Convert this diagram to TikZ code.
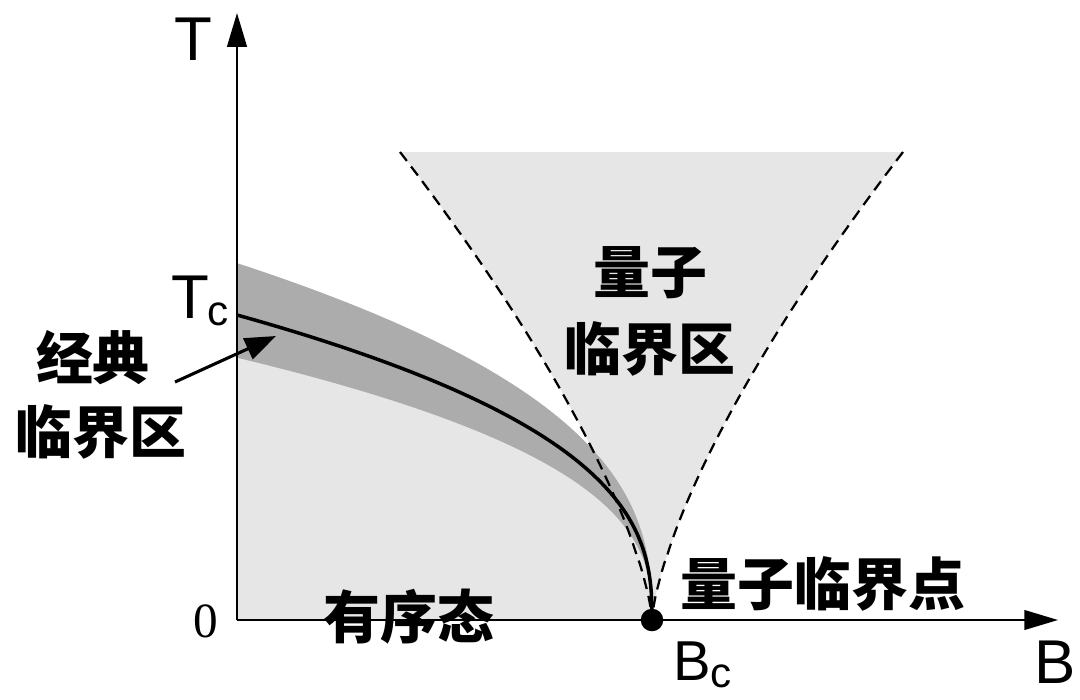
\documentclass[tikz,border=0pt]{standalone}
\usepackage{fontspec}
\setmainfont{Liberation Sans}
\newfontfamily\cjk{Noto Sans CJK SC}
\newfontfamily\zerofont{Liberation Serif}
\usetikzlibrary{arrows.meta}
\definecolor{lightfill}{RGB}{230,230,230}
\definecolor{bandfill}{RGB}{172,172,172}
\tikzset{
  cjklabel/.style={font=\cjk\bfseries\fontsize{40.5}{48}\selectfont, inner sep=0pt},
  axislabel/.style={font=\fontsize{44}{50}\selectfont, inner sep=0pt},
  axisline/.style={line width=1.4pt, -{Triangle[length=24pt,width=14pt]}},
  fanline/.style={line width=1.6pt, dash pattern=on 8pt off 5pt},
  critline/.style={line width=2.5pt},
  pointer/.style={line width=2.2pt, -{Triangle[length=22pt,width=16pt]}},
}
\begin{document}
\begin{tikzpicture}[x=0.025cm, y=-0.025cm]
\useasboundingbox (0,0) rectangle (1080,699);
% quantum critical fan
\fill[lightfill] (400,152) -- (903,152)
  -- plot[domain=1:0.01, samples=80, variable=\s] ({652+251*\s^1.4286}, {620-468*\s})
  -- (652,620)
  -- plot[domain=0.01:1, samples=80, variable=\s] ({652-252*\s^1.4286}, {620-468*\s})
  -- cycle;
% ordered region
\fill[lightfill] (237,620) -- (237,315)
  -- plot[domain=1:0.02, samples=100, variable=\t] ({237+415*(1-\t^2.5)}, {620-305*\t^0.95})
  -- (652,620) -- cycle;
% classical critical band
\fill[bandfill] (237,263)
  -- plot[domain=1:0.02, samples=100, variable=\t] ({237+415*(1-\t^2.5)}, {620-1.17*305*\t^0.95})
  -- (652,620)
  -- plot[domain=0.02:1, samples=100, variable=\t] ({237+415*(1-\t^2.5)}, {620-0.86*305*\t^0.95})
  -- cycle;
% fan boundaries
\draw[fanline] plot[domain=1:0.01, samples=80, variable=\s] ({652+251*\s^1.4286}, {620-468*\s}) -- (652,620);
\draw[fanline] plot[domain=1:0.01, samples=80, variable=\s] ({652-252*\s^1.4286}, {620-468*\s}) -- (652,620);
% critical line
\draw[critline] plot[domain=1:0.02, samples=120, variable=\t] ({237+415*(1-\t^2.5)}, {620-305*\t^0.95}) -- (652,620);
% axes
\coordinate (O) at (237,620);
\coordinate (Ttop) at (237,13);
\coordinate (Bend) at (1058,620);
\draw[axisline] (O) -- (Ttop);
\draw[axisline] (O) -- (Bend);
% quantum critical point
\node[circle, fill=black, inner sep=0pt, minimum size=16pt] (qcp) at (652,620) {};
% axis labels
\node[axislabel, anchor=base] (Tlab) at (193,60) {T};
\node[axislabel, anchor=base west] (Blab) at (1034,683) {B};
\node[axislabel, anchor=base west] (Tc) at (171,318) {T\kern-1pt\raisebox{-5pt}{\fontsize{30}{30}\selectfont c}};
\node[font=\fontsize{40}{46}\selectfont, inner sep=0pt, anchor=base west] (Bc) at (673,680) {B\kern0pt\raisebox{-5pt}{\fontsize{30}{30}\selectfont c}};
\node[font=\zerofont\fontsize{35}{40}\selectfont, inner sep=0pt, anchor=base] (zero) at (206,637) {0};
% region labels
\node[cjklabel] (qc1) at (650,273) {量子};
\node[cjklabel] (qc2) at (650,349) {临界区};
\node[cjklabel] (qcpl) at (823,584) {量子临界点};
\node[cjklabel] (ord) at (409,617) {有序态};
\node[cjklabel] (cc1) at (93,358) {经典};
\node[cjklabel] (cc2) at (101,432) {临界区};
% pointer
\coordinate (arrS) at (175,382);
\coordinate (arrE) at (276,336);
\draw[pointer] (arrS) -- (arrE);
\end{tikzpicture}
\end{document}
